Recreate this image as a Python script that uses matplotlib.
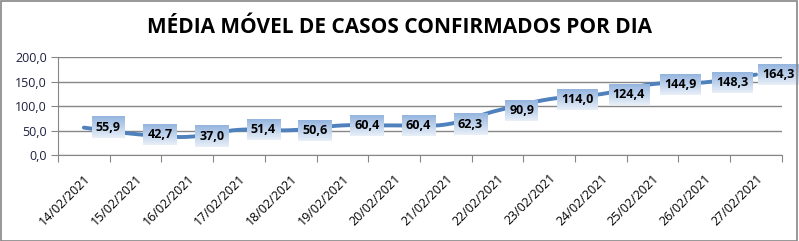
import matplotlib.pyplot as plt
import matplotlib.patches as mpatches
from matplotlib.colors import to_rgb
from matplotlib.path import Path
import numpy as np

dates = ['14/02/2021', '15/02/2021', '16/02/2021', '17/02/2021', '18/02/2021',
         '19/02/2021', '20/02/2021', '21/02/2021', '22/02/2021', '23/02/2021',
         '24/02/2021', '25/02/2021', '26/02/2021', '27/02/2021']
media = [55.9, 42.7, 37.0, 51.4, 50.6, 60.4, 60.4, 62.3, 90.9, 114.0,
         124.4, 144.9, 148.3, 164.3]
yticks = [0, 50, 100, 150, 200]

plt.rcParams['font.family'] = ['Open Sans', 'DejaVu Sans']

fig = plt.figure(figsize=(7.99, 2.41), dpi=100)
fig.patches.append(mpatches.Rectangle((0.001, 0.002), 0.997, 0.994, transform=fig.transFigure,
                                      fill=False, edgecolor='#868686', lw=1.2))
ax = fig.add_axes([0.0726, 0.357, 0.906, 0.406])

x = np.arange(len(media))
y = np.array(media)

# smoothed line like Excel (Catmull-Rom -> cubic bezier)
verts = [(x[0], y[0])]
codes = [Path.MOVETO]
for i in range(len(x) - 1):
    p0 = (x[max(i - 1, 0)], y[max(i - 1, 0)])
    p1 = (x[i], y[i])
    p2 = (x[i + 1], y[i + 1])
    p3 = (x[min(i + 2, len(x) - 1)], y[min(i + 2, len(x) - 1)])
    c1 = (p1[0] + (p2[0] - p0[0]) / 6, p1[1] + (p2[1] - p0[1]) / 6)
    c2 = (p2[0] - (p3[0] - p1[0]) / 6, p2[1] - (p3[1] - p1[1]) / 6)
    verts += [c1, c2, p2]
    codes += [Path.CURVE4] * 3
ax.add_patch(mpatches.PathPatch(Path(verts, codes), fill=False, edgecolor='#4f81bd',
                                lw=2.8, capstyle='round', zorder=3))

labels = []
for i, (xi, yi) in enumerate(zip(x, y)):
    # excel pushes the last label back inside the chart area
    dx = 4.5 if i == len(x) - 1 else 8.5
    t = ax.annotate('{:.1f}'.format(yi).replace('.', ','), (xi, yi), xytext=(dx, 0),
                    textcoords='offset points', ha='left', va='center',
                    fontsize=9, fontweight='bold', color='black', zorder=5,
                    annotation_clip=False,
                    bbox=dict(boxstyle='square,pad=0.32', facecolor='none', edgecolor='none'))
    labels.append(t)

ax.set_xlim(-0.5, len(media) - 0.5)
ax.set_ylim(0, 200)
ax.set_yticks(yticks)
ax.set_yticklabels(['{:.1f}'.format(v).replace('.', ',') for v in yticks],
                   fontsize=9, color='#1f1f3f')
ax.yaxis.grid(True, color='#868686', lw=1)
ax.set_axisbelow(True)

ax.set_xticks(np.arange(len(media) + 1) - 0.5)
ax.set_xticklabels([])
ax.set_xticks(x, minor=True)
ax.set_xticklabels(dates, minor=True, rotation=45, ha='right', rotation_mode='anchor',
                   fontsize=9)
ax.tick_params(axis='x', which='minor', length=0, pad=12)
ax.tick_params(axis='x', which='major', length=5, color='#868686')
ax.tick_params(axis='y', length=5, color='#868686', pad=3)

for s in ['top', 'right']:
    ax.spines[s].set_visible(False)
for s in ['left', 'bottom']:
    ax.spines[s].set_color('#868686')

fig.text(0.5, 0.885, 'MÉDIA MÓVEL DE CASOS CONFIRMADOS POR DIA', ha='center', va='center',
         fontsize=15, fontweight='bold')

# gradient fill behind the data labels
fig.canvas.draw()
top, bot = np.array(to_rgb('#95b5df')), np.array(to_rgb('#e8eff8'))
grad = np.linspace(0, 1, 32)[:, None, None]
grad = top * (1 - grad) + bot * grad
inv = ax.transData.inverted()
for t in labels:
    bb = t.get_bbox_patch().get_window_extent()
    (x0, y0), (x1, y1) = inv.transform([(bb.x0, bb.y0), (bb.x1, bb.y1)])
    ax.imshow(grad, extent=(x0, x1, y0, y1), aspect='auto', zorder=4,
              clip_on=False, interpolation='bilinear')
ax.set_xlim(-0.5, len(media) - 0.5)
ax.set_ylim(0, 200)

plt.savefig('out.png', dpi=100)
